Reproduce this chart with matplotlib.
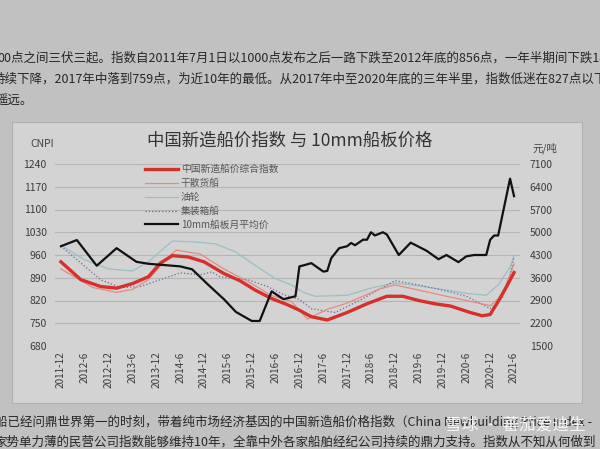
import matplotlib
matplotlib.use("Agg")
import matplotlib.pyplot as plt
from matplotlib.patches import Rectangle

plt.rcParams['font.family'] = ['Noto Sans CJK SC', 'DejaVu Sans']

# 月份序号：0 = 2011-12，每 6 个月一个刻度
tick_pos = list(range(0, 115, 6))
tick_labels = ['2011-12', '2012-6', '2012-12', '2013-6', '2013-12', '2014-6', '2014-12',
               '2015-6', '2015-12', '2016-6', '2016-12', '2017-6', '2017-12', '2018-6',
               '2018-12', '2019-6', '2019-12', '2020-6', '2020-12', '2021-6']

# 中国新造船价综合指数
comp_m = [0, 5, 10, 14, 18, 22, 25, 28, 32, 36, 41, 45, 49, 53, 57, 60, 63, 67, 72, 77,
          82, 86, 90, 94, 98, 103, 106, 108, 110, 112, 114]
comp_v = [939, 884, 863, 858, 872, 893, 935, 958, 954, 939, 903, 881, 851, 826, 807, 790,
          770, 760, 783, 810, 833, 833, 820, 810, 803, 783, 773, 777, 817, 860, 906]

# 干散货船
bulk_m = [0, 8, 14, 18, 22, 27, 29, 35, 41, 48, 53, 58, 62, 67, 72, 76, 80, 84, 90, 97,
          102, 108, 111, 113, 114]
bulk_v = [917, 860, 845, 854, 884, 954, 975, 963, 917, 872, 835, 817, 763, 793, 812, 833,
          855, 868, 852, 833, 820, 804, 836, 900, 932]

# 油轮
tank_m = [0, 6, 12, 18, 22, 28, 34, 39, 44, 49, 54, 58, 61, 64, 72, 78, 84, 90, 97, 102,
          107, 110, 113, 114]
tank_v = [990, 945, 917, 911, 939, 1003, 1000, 994, 969, 927, 887, 868, 845, 833, 836, 858,
          874, 865, 852, 842, 836, 868, 922, 958]

# 集装箱船
cont_m = [0, 10, 15, 20, 25, 30, 35, 38, 40, 47, 52, 56, 60, 63, 69, 76, 84, 90, 97, 102,
          108, 111, 113, 114]
cont_v = [987, 884, 860, 863, 884, 905, 899, 908, 893, 884, 863, 838, 823, 795, 783, 826,
          881, 868, 849, 833, 795, 826, 900, 954]

# 10mm船板月平均价（元/吨）
plate_m = [0, 4, 9, 14, 19, 22, 26, 30, 33, 37, 41, 44, 48, 50, 53, 56, 59, 60, 61, 63,
           66, 67, 68, 70, 72, 73, 74, 76, 77, 78, 79, 81, 82, 85, 88, 92, 95, 97, 100,
           102, 104, 107, 108, 109, 110, 113, 114]
plate_v = [4570, 4760, 3970, 4510, 4090, 4030, 3990, 3950, 3860, 3390, 2940, 2550, 2270,
           2270, 3180, 2940, 3030, 3950, 3980, 4050, 3790, 3810, 4200, 4510, 4570, 4670,
           4600, 4770, 4770, 5000, 4900, 5000, 4930, 4300, 4680, 4430, 4170, 4300, 4080,
           4260, 4300, 4300, 4770, 4900, 4900, 6650, 6110]

W, H = 600, 449
fig = plt.figure(figsize=(6, 4.49), dpi=100)
fig.patch.set_facecolor('#c1c1c1')

# 图表外框
fig.patches.append(Rectangle((12 / W, 1 - 403 / H), 570 / W, 281 / H, transform=fig.transFigure,
                             facecolor='#d3d3d3', edgecolor='#b0b0b0', lw=0.8, zorder=-5))

ax = fig.add_axes([55 / W, 1 - 346 / H, 465 / W, 182 / H])
ax.set_facecolor('none')
ax.set_xlim(-1.5, 115.5)
ax.set_ylim(680, 1240)
ax.set_yticks(range(680, 1241, 70))
ax.set_xticks(tick_pos)
ax.set_xticklabels(tick_labels, rotation=90)
for s in ax.spines.values():
    s.set_visible(False)
ax.grid(axis='y', color='#b5b5b5', lw=0.8)
ax.tick_params(length=0, labelsize=7.5, colors='#3c3c3c')
ax.tick_params(axis='x', pad=4, labelsize=7.2)
ax.tick_params(axis='y', pad=6)

l1, = ax.plot(comp_m, comp_v, color='#d7302b', lw=2.4, label='中国新造船价综合指数', zorder=5)
l2, = ax.plot(bulk_m, bulk_v, color='#e58a80', lw=0.9, label='干散货船', zorder=4)
l3, = ax.plot(tank_m, tank_v, color='#98c0c6', lw=0.9, label='油轮', zorder=3)
l4, = ax.plot(cont_m, cont_v, color='#6e6a98', lw=0.9, ls=':', label='集装箱船', zorder=3)

ax2 = ax.twinx()
ax2.set_ylim(1500, 7100)
ax2.set_yticks(range(1500, 7101, 700))
for s in ax2.spines.values():
    s.set_visible(False)
ax2.tick_params(length=0, labelsize=7.5, colors='#3c3c3c', pad=7)
l5, = ax2.plot(plate_m, plate_v, color='#111111', lw=1.6, label='10mm船板月平均价')

ax.legend(handles=[l1, l2, l3, l4, l5], loc='upper left', bbox_to_anchor=(0.183, 1.025),
          frameon=False, fontsize=7, handlelength=3.4, labelspacing=0.4, borderpad=0,
          handletextpad=0.3, labelcolor='#555555')

fig.text(290 / W, 1 - 141 / H, '中国新造船价指数 与 10mm船板价格', ha='center', va='center',
         fontsize=12.5, color='#333333')
fig.text(30 / W, 1 - 144 / H, 'CNPI', ha='left', va='center', fontsize=7.5, color='#444444')
fig.text(545 / W, 1 - 148 / H, '元/吨', ha='center', va='center', fontsize=7.5, color='#444444')

# 页面正文
txt = dict(fontsize=9.0, color='#262626', va='center', ha='left')
fig.text(-3 / W, 1 - 58 / H, '00点之间三伏三起。指数自2011年7月1日以1000点发布之后一路下跌至2012年底的856点，一年半期间下跌14%', **txt)
fig.text(-7 / W, 1 - 79 / H, '持续下降，2017年中落到759点，为近10年的最低。从2017年中至2020年底的三年半里，指数低迷在827点以下，', **txt)
fig.text(-4 / W, 1 - 100 / H, '遥远。', **txt)
fig.text(-5 / W, 1 - 422 / H, '船已经问鼎世界第一的时刻，带着纯市场经济基因的中国新造船价格指数（China Newbuilding Price Index -', **txt)
fig.text(-6 / W, 1 - 442 / H, '家势单力薄的民营公司指数能够维持10年，全靠中外各家船舶经纪公司持续的鼎力支持。指数从不知从何做到', **txt)
fig.text(515 / W, 1 - 425 / H, '雪球 · 蕃茄爱迪生', ha='center', va='center', fontsize=12,
         color='white', alpha=0.85)

fig.savefig('out.png', dpi=100, facecolor=fig.get_facecolor())
